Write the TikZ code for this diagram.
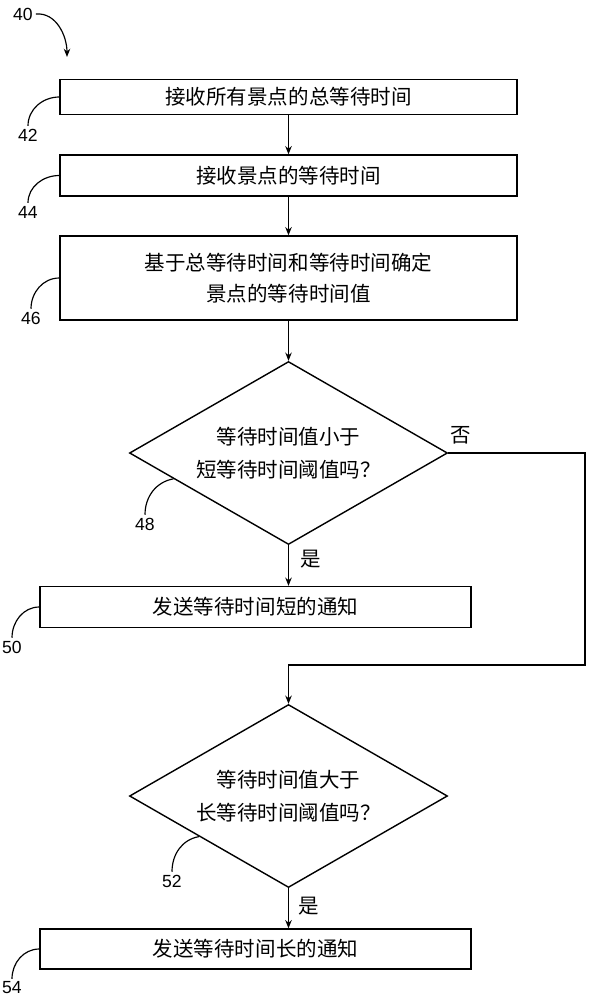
\documentclass[tikz,border=0pt]{standalone}
\usepackage{fontspec}
\setmainfont{Liberation Sans}
\newfontfamily\cjk{Noto Sans CJK SC}
\usetikzlibrary{shapes.geometric,arrows.meta,calc}
\begin{document}
\begin{tikzpicture}[x=0.03cm, y=-0.03cm, line width=1.2pt, >={Stealth[length=7pt,width=5.5pt]},
  every node/.style={font=\cjk\fontsize{17.5}{26}\selectfont},
  box/.style={draw,rectangle,align=center,inner sep=2pt},
  decision/.style={draw,diamond,aspect=1.74,align=center,inner sep=0pt,minimum width=9.54cm,minimum height=5.49cm},
  num/.style={font=\fontsize{15}{18}\selectfont,inner sep=2pt},
  lead/.style={line width=1pt}]
\useasboundingbox (0,0) rectangle (592,1000);
% steps
\node[box,minimum width=13.71cm,minimum height=1.05cm] (b42) at (288.5,97) {接收所有景点的总等待时间};
\node[box,minimum width=13.71cm,minimum height=1.23cm] (b44) at (288.5,175.5) {接收景点的等待时间};
\node[box,minimum width=13.71cm,minimum height=2.52cm] (b46) at (288.5,278) {基于总等待时间和等待时间确定\\景点的等待时间值};
\node[decision] (d48) at (288.5,453) {等待时间值小于\\[2pt]短等待时间阈值吗？};
\node[box,minimum width=12.93cm,minimum height=1.23cm] (b50) at (255.5,607) {发送等待时间短的通知};
\node[decision] (d52) at (288.5,796) {等待时间值大于\\[2pt]长等待时间阈值吗？};
\node[box,minimum width=12.93cm,minimum height=1.2cm] (b54) at (255.5,949) {发送等待时间长的通知};
% flow
\draw[->] (b42) -- (b44);
\draw[->] (b44) -- (b46);
\draw[->] (b46) -- (d48);
\draw[->] (d48.south) -- (d48.south |- b50.north);
\coordinate (turn) at (585,665);
\draw[->] (d48.east) -| (turn) -| (d52.north);
\draw[->] (d52.south) -- (d52.south |- b54.north);
\node (no48) at (461,435) {否};
\node (yes48) at (311,559) {是};
\node (yes52) at (309,906) {是};
% reference numerals
\node[num] (n40) at (23,14) {40};
\coordinate (a40) at (67,57);
\draw[lead,->] (n40.east) to[out=5,in=90] (a40);
\node[num] (n42) at (28,135) {42};
\node[num] (n44) at (28,212) {44};
\node[num] (n46) at (31,318) {46};
\node[num] (n48) at (145,524) {48};
\node[num] (n50) at (12,647) {50};
\node[num] (n52) at (172,881) {52};
\node[num] (n54) at (12,988) {54};
\draw[lead] (b42.west) to[out=180,in=90] (n42.north);
\draw[lead] (b44.west) to[out=180,in=90] (n44.north);
\draw[lead] (b46.west) to[out=180,in=90] (n46.north);
\draw[lead] ($(d48.west)!0.28!(d48.south)$) to[out=190,in=90] (n48.north);
\draw[lead] (b50.west) to[out=180,in=90] (n50.north);
\draw[lead] ($(d52.west)!0.44!(d52.south)$) to[out=190,in=90] (n52.north);
\draw[lead] (b54.west) to[out=180,in=90] (n54.north);
\end{tikzpicture}
\end{document}
